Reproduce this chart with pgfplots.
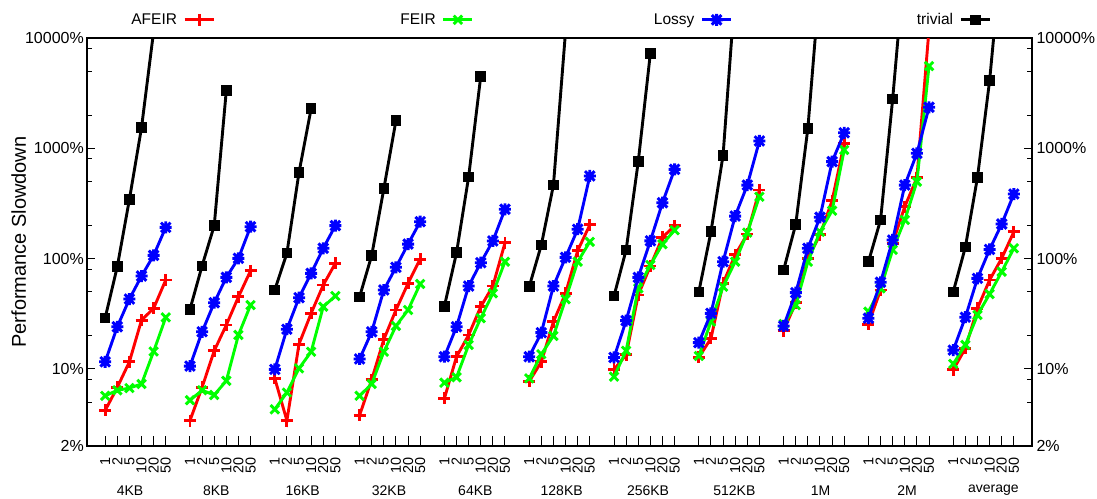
\documentclass[border=0pt]{standalone}
\usepackage{fontspec}
\setmainfont{Liberation Sans}
\usepackage{pgfplots}
\usepackage{pgfplotstable}
\pgfplotsset{compat=1.18}
\definecolor{gred}{RGB}{255,0,0}
\definecolor{ggreen}{RGB}{0,255,0}
\definecolor{gblue}{RGB}{0,0,255}
\pgfdeclareplotmark{gstar}{%
  \pgfpathmoveto{\pgfqpoint{-\pgfplotmarksize}{0pt}}%
  \pgfpathlineto{\pgfqpoint{\pgfplotmarksize}{0pt}}%
  \pgfpathmoveto{\pgfqpoint{0pt}{-\pgfplotmarksize}}%
  \pgfpathlineto{\pgfqpoint{0pt}{\pgfplotmarksize}}%
  \pgfpathmoveto{\pgfqpoint{-.8\pgfplotmarksize}{-.8\pgfplotmarksize}}%
  \pgfpathlineto{\pgfqpoint{.8\pgfplotmarksize}{.8\pgfplotmarksize}}%
  \pgfpathmoveto{\pgfqpoint{-.8\pgfplotmarksize}{.8\pgfplotmarksize}}%
  \pgfpathlineto{\pgfqpoint{.8\pgfplotmarksize}{-.8\pgfplotmarksize}}%
  \pgfusepathqstroke}

\pgfplotstableread[row sep=\\]{
x y\\
0 4.2\\ 1 6.8\\ 2 11.6\\ 3 27.7\\ 4 35.4\\ 5 64\\ 6 nan\\
7 3.4\\ 8 6.8\\ 9 14.6\\ 10 25\\ 11 45\\ 12 77.6\\ 13 nan\\
14 8.2\\ 15 3.4\\ 16 16.8\\ 17 31.9\\ 18 57.6\\ 19 90.6\\ 20 nan\\
21 3.8\\ 22 8.0\\ 23 18.5\\ 24 34.2\\ 25 59.7\\ 26 99\\ 27 nan\\
28 5.4\\ 29 12.9\\ 30 20.3\\ 31 36.6\\ 32 56.4\\ 33 139\\ 34 nan\\
35 7.7\\ 36 11.6\\ 37 26.8\\ 38 48.4\\ 39 118\\ 40 202\\ 41 nan\\
42 9.9\\ 43 13.4\\ 44 46.8\\ 45 85.7\\ 46 156\\ 47 198\\ 48 nan\\
49 12.7\\ 50 18.9\\ 51 59.7\\ 52 108\\ 53 167\\ 54 419\\ 55 nan\\
56 22.2\\ 57 39.8\\ 58 100.6\\ 59 164\\ 60 335\\ 61 1110\\ 62 nan\\
63 25.5\\ 64 51.9\\ 65 138\\ 66 296\\ 67 540\\ 68 12000\\ 69 nan\\
70 9.8\\ 71 15.4\\ 72 35.4\\ 73 64\\ 74 100.6\\ 75 175\\
}\tafeir

\pgfplotstableread[row sep=\\]{
x y\\
0 5.7\\ 1 6.4\\ 2 6.7\\ 3 7.3\\ 4 14.4\\ 5 29.3\\ 6 nan\\
7 5.2\\ 8 6.4\\ 9 5.8\\ 10 7.8\\ 11 20.3\\ 12 37.9\\ 13 nan\\
14 4.3\\ 15 6.1\\ 16 10.1\\ 17 14.3\\ 18 36.6\\ 19 45.8\\ 20 nan\\
21 5.7\\ 22 7.3\\ 23 14.3\\ 24 24.5\\ 25 34.2\\ 26 58.9\\ 27 nan\\
28 7.5\\ 29 8.4\\ 30 16.5\\ 31 28.8\\ 32 48.4\\ 33 93.7\\ 34 nan\\
35 8.2\\ 36 13.6\\ 37 19.9\\ 38 42.8\\ 39 93.7\\ 40 142\\ 41 nan\\
42 8.5\\ 43 14.6\\ 44 53.8\\ 45 87.5\\ 46 135\\ 47 181\\ 48 nan\\
49 13.1\\ 50 26.8\\ 51 55.6\\ 52 93.7\\ 53 172\\ 54 364\\ 55 nan\\
56 25.5\\ 57 37.9\\ 58 93.7\\ 59 175\\ 60 272\\ 61 966\\ 62 nan\\
63 33\\ 64 53.8\\ 65 120\\ 66 224\\ 67 498\\ 68 5570\\ 69 nan\\
70 11.1\\ 71 16.5\\ 72 30.8\\ 73 47.7\\ 74 76\\ 75 124\\
}\tfeir

\pgfplotstableread[row sep=\\]{
x y\\
0 11.6\\ 1 24.1\\ 2 43\\ 3 69.5\\ 4 107\\ 5 192\\ 6 nan\\
7 10.6\\ 8 21.7\\ 9 39.8\\ 10 67.6\\ 11 100.6\\ 12 194.6\\ 13 nan\\
14 9.9\\ 15 22.9\\ 16 44.2\\ 17 73.5\\ 18 124\\ 19 199\\ 20 nan\\
21 12.3\\ 22 21.7\\ 23 51.9\\ 24 83.4\\ 25 135.5\\ 26 216\\ 27 nan\\
28 12.9\\ 29 24.1\\ 30 56.4\\ 31 91.8\\ 32 144.5\\ 33 280\\ 34 nan\\
35 12.9\\ 36 21.3\\ 37 56.4\\ 38 102.7\\ 39 184.6\\ 40 561\\ 41 nan\\
42 12.7\\ 43 27.4\\ 44 67.6\\ 45 145\\ 46 321\\ 47 645\\ 48 nan\\
49 17.3\\ 50 31.9\\ 51 93.7\\ 52 243\\ 53 464\\ 54 1165\\ 55 nan\\
56 24.5\\ 57 49.1\\ 58 124\\ 59 237\\ 60 757\\ 61 1383\\ 62 nan\\
63 28.8\\ 64 61\\ 65 147.5\\ 66 464\\ 67 901\\ 68 2355\\ 69 nan\\
70 14.8\\ 71 29.4\\ 72 66.2\\ 73 121\\ 74 206\\ 75 385\\
}\tlossy

\pgfplotstableread[row sep=\\]{
x y\\
0 29\\ 1 84.5\\ 2 344\\ 3 1540\\ 4 11500\\ 6 nan\\
7 34.7\\ 8 86\\ 9 199\\ 10 3360\\ 13 nan\\
14 52\\ 15 112\\ 16 605\\ 17 2290\\ 20 nan\\
21 45\\ 22 107\\ 23 430\\ 24 1780\\ 27 nan\\
28 37\\ 29 113\\ 30 551\\ 31 4500\\ 34 nan\\
35 55.6\\ 36 133\\ 37 464\\ 38 11500\\ 41 nan\\
42 45.8\\ 43 120\\ 44 757\\ 45 7270\\ 48 nan\\
49 50\\ 50 175\\ 51 864\\ 52 27000\\ 55 nan\\
56 79\\ 57 205\\ 58 1520\\ 59 34000\\ 62 nan\\
63 93.7\\ 64 224\\ 65 2800\\ 66 51000\\ 69 nan\\
70 50\\ 71 127\\ 72 546\\ 73 4100\\ 74 60000\\
}\ttrivial

\begin{document}
\begin{tikzpicture}
\begin{axis}[
  at={(0pt,0pt)}, anchor=south west,
  scale only axis, width=945pt, height=408pt,
  xmin=-1.5, xmax=76.5,
  ymode=log, ymin=2, ymax=10000,
  ytick={2,10,100,1000,10000},
  yticklabels={2\%,10\%,100\%,1000\%,10000\%},
  minor ytick={5,8,20,50,80,200,500,800,2000,5000,8000},
  major tick length=8pt, minor tick length=5pt,
  tick style={line width=1pt, black},
  axis line style={line width=1.2pt},
  yticklabel style={font=\fontsize{16}{19}\selectfont, inner xsep=0pt, xshift=-3pt},
  ytick pos=both, yticklabel pos=left,
  xtick pos=bottom,
  xtick style={/pgfplots/major tick length=10pt},
  xtick={0,1,2,3,4,5,7,8,9,10,11,12,14,15,16,17,18,19,21,22,23,24,25,26,28,29,30,31,32,33,35,36,37,38,39,40,42,43,44,45,46,47,49,50,51,52,53,54,56,57,58,59,60,61,63,64,65,66,67,68,70,71,72,73,74,75},
  xticklabels={1,2,5,10,20,50,1,2,5,10,20,50,1,2,5,10,20,50,1,2,5,10,20,50,1,2,5,10,20,50,1,2,5,10,20,50,1,2,5,10,20,50,1,2,5,10,20,50,1,2,5,10,20,50,1,2,5,10,20,50,1,2,5,10,20,50},
  xticklabel style={rotate=90, anchor=east, inner sep=0pt, font=\fontsize{14.4}{17}\selectfont, xshift=-11pt},
  ylabel={Performance Slowdown},
  ylabel style={at={(rel axis cs:-0.0722,0.5)}, anchor=center, font=\fontsize{20}{24}\selectfont},
  clip marker paths=true,
  unbounded coords=jump,
  legend columns=4,
  legend plot pos=right,
  legend style={draw=none, fill=none, inner sep=0pt, outer sep=0pt, column sep=0pt,
    at={(rel axis cs:0.01059,1.0445)}, anchor=west,
    nodes={inner sep=0pt, font=\fontsize{15.5}{18}\selectfont}},
  legend image code/.code={%
    \path[draw=none, fill=none] (0pt,0pt) -- (178.7pt,0pt);
    \draw[mark repeat=2, mark phase=2, #1] plot coordinates {(7.7pt,0pt) (22.2pt,0pt) (36.7pt,0pt)};},
  every axis plot/.append style={line width=2.9pt},
  after end axis/.code={
    \foreach \g/\lab in {0/4KB,1/8KB,2/16KB,3/32KB,4/64KB,5/128KB,6/256KB,7/512KB,8/1M,9/2M,10/average}{
      \pgfmathsetmacro{\gx}{2.05+7.126*\g}
      \node[font=\fontsize{14}{16}\selectfont, anchor=center, yshift=-44.5pt] at (axis cs:\gx,2) {\lab};
    }
  },
]
\addplot[color=gred, mark=+, mark size=6pt, mark options={solid, line width=2.9pt}] table[x=x,y=y] {\tafeir};
\addlegendentry{\makebox[80pt][r]{AFEIR}}
\addplot[color=ggreen, mark=x, mark size=6pt, mark options={solid, line width=2.9pt}] table[x=x,y=y] {\tfeir};
\addlegendentry{\makebox[80pt][r]{FEIR}}
\addplot[color=gblue, mark=gstar, mark size=6pt, mark options={solid, line width=2.9pt}] table[x=x,y=y] {\tlossy};
\addlegendentry{\makebox[80pt][r]{Lossy}}
\addplot[color=black, mark=square*, mark size=4.8pt, mark options={solid, line width=1pt}] table[x=x,y=y] {\ttrivial};
\addlegendentry{\makebox[80pt][r]{trivial}}
\end{axis}
\begin{axis}[
  at={(0pt,0pt)}, anchor=south west,
  scale only axis, width=945pt, height=408pt,
  xmin=-1.5, xmax=76.5,
  ymode=log, ymin=2, ymax=10000,
  ytick={2,10,100,1000,10000},
  yticklabels={2\%,10\%,100\%,1000\%,10000\%},
  minor ytick={5,8,20,50,80,200,500,800,2000,5000,8000},
  major tick length=8pt, minor tick length=5pt,
  tick style={line width=1pt, black},
  axis line style={line width=1.2pt},
  yticklabel style={font=\fontsize{16}{19}\selectfont, inner xsep=0pt, xshift=4.3pt},
  axis x line=none, axis y line*=right,
]
\addplot[draw=none] coordinates {(0,10)};
\end{axis}
\pgfresetboundingbox
\path (-87pt,-52pt) rectangle (1010pt,446pt);
\end{tikzpicture}
\end{document}
